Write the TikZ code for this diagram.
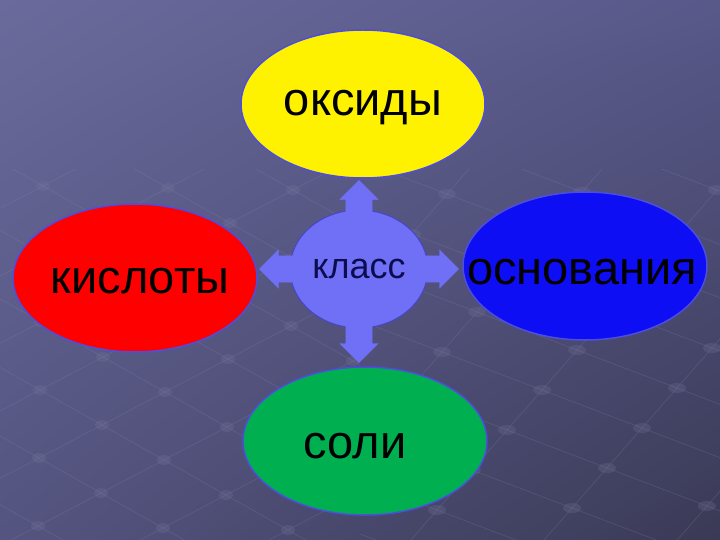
\documentclass[tikz,border=0pt]{standalone}
\usepackage{fontspec}
\setmainfont{Liberation Sans}
\usetikzlibrary{shapes.geometric,shapes.arrows,shadings}

\definecolor{bgtl}{RGB}{106,106,156}
\definecolor{bgtr}{RGB}{88,88,138}
\definecolor{bgbl}{RGB}{84,84,128}
\definecolor{bgbr}{RGB}{58,58,86}
\definecolor{rim}{RGB}{78,78,222}
\definecolor{lilac}{RGB}{112,112,246}
\definecolor{navy}{RGB}{12,12,80}
\definecolor{grass}{RGB}{0,176,80}
\definecolor{deepblue}{RGB}{14,14,244}

\begin{document}
\begin{tikzpicture}[x=1pt,y=-1pt,
		main node/.style={ellipse,draw=rim,line width=1.5pt,inner sep=0pt,minimum width=244pt,minimum height=148pt},
		word/.style={font=\fontsize{47}{50}\selectfont,text=black,inner sep=0pt},
		class node/.style={ellipse,draw=rim!90!black,line width=1pt,fill=lilac,inner sep=0pt,minimum width=138pt,minimum height=118pt,font=\fontsize{36}{40}\selectfont,text=navy},
		arrow node/.style={single arrow,fill=lilac,draw=lilac,inner xsep=0pt,inner ysep=13pt,single arrow head extend=6pt,minimum height=33pt,anchor=tail},
		mesh/.style={line width=0.6pt,draw={rgb,255:red,140;green,140;blue,178}},
		knob/.style={fill={rgb,255:red,118;green,118;blue,156}}]
		\useasboundingbox (0,0) rectangle (720,540);
		\shade[upper left=bgtl,upper right=bgtr,lower left=bgbl,lower right=bgbr] (0,0) rectangle (720,540);

		% net on the floor
		\begin{scope}[opacity=0.25]
		\clip (0,170) rectangle (360,540);
		\foreach \j in {-5,...,6} {
			\draw[mesh,shift={({40+\j*63},{390-\j*33})}] (-372,-210) -- (372,210);
			\draw[mesh,shift={({40+\j*62},{390+\j*35})}] (-378,198) -- (378,-198);
			\foreach \i in {-5,...,6}
				\fill[knob,shift={({40+\j*62+\i*63},{390+\j*35-\i*33})}] (0,0) ellipse (7 and 5);
		}
		\end{scope}
		\begin{scope}[opacity=0.25]
		\clip (360,170) rectangle (720,540);
		\foreach \j in {-5,...,6} {
			\draw[mesh,shift={({607+\j*35},{468-\j*40})}] (-600,-228) -- (600,228);
			\draw[mesh,shift={({607+\j*100},{468+\j*38})}] (-210,240) -- (210,-240);
			\foreach \i in {-5,...,6}
				\fill[knob,shift={({607+\j*100+\i*35},{468+\j*38-\i*40})}] (0,0) ellipse (9 and 5);
		}
		\end{scope}

		\node[class node] (klass) at (359,269) {класс};
		\node[main node,fill=yellow,label={[word,yshift=-4pt]center:оксиды}] (ox) at (363,104) {};
		\node[main node,fill=red,label={[word,xshift=5pt,yshift=-3pt]center:кислоты}] (acid) at (135,278) {};
		\node[main node,fill=deepblue,label={[word,xshift=-3pt,yshift=-6pt]center:основания}] (base) at (585,266) {};
		\node[main node,fill=grass,label={[word,xshift=-10pt,yshift=-5pt]center:соли}] (salt) at (365,441) {};

		\node[arrow node,rotate=90] (up) at ([yshift=-4pt]klass.north) {};
		\node[arrow node,rotate=180] (left) at ([xshift=3pt]klass.west) {};
		\node[arrow node] (right) at ([xshift=-3pt]klass.east) {};
		\node[arrow node,rotate=-90,minimum height=39pt] (down) at ([yshift=5pt]klass.south) {};
\end{tikzpicture}
\end{document}
